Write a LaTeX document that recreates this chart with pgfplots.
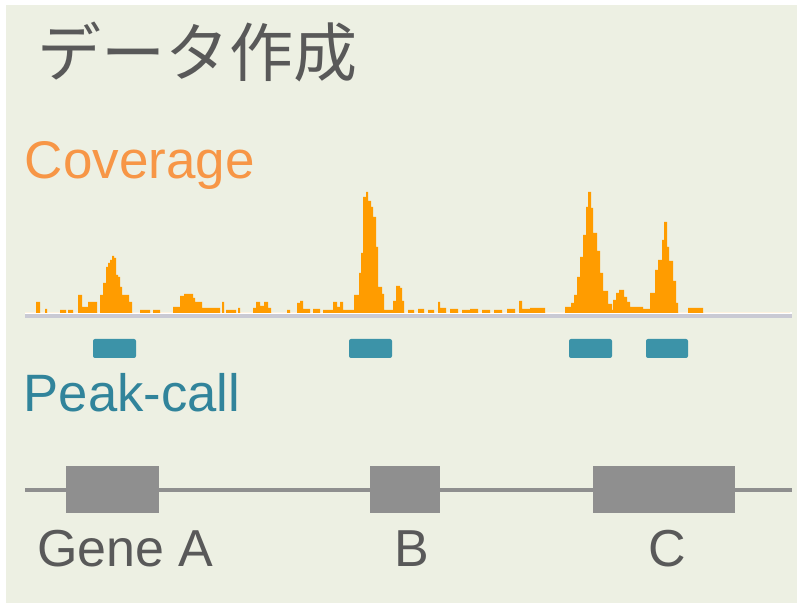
\documentclass[border=0pt]{standalone}
\usepackage{pgfplots}
\pgfplotsset{compat=1.18}
\usepackage{pgfplotstable}
\usepackage{fontspec}
\setmainfont{Liberation Sans}
\newfontfamily\cjk{Noto Sans CJK JP}
\definecolor{panel}{HTML}{EDF0E3}
\definecolor{txtgray}{HTML}{595959}
\definecolor{covtxt}{HTML}{F79646}
\definecolor{covbar}{HTML}{FF9C00}
\definecolor{peaktxt}{HTML}{31849B}
\definecolor{peakbox}{HTML}{3C93A8}
\definecolor{genegray}{HTML}{8F8F8F}
\definecolor{basegray}{HTML}{CACAD4}

% coverage profile: x (px), height above baseline (px); step function
\pgfplotstableread{
x h
25 0
36 11
40 0
45 4
47 0
60 3
66 0
68 3
73 0
78 18
82 6
88 11
97 0
100 18
103 30
106 46
108 50
110 53
112 57
114 55
116 38
118 36
120 26
122 18
126 18
129 11
132 0
140 3
150 0
153 3
160 0
173 6
180 17
184 19
193 15
195 11
202 5
220 0
222 11
224 0
226 3
236 0
238 5
240 0
253 5
256 11
260 7
264 11
268 5
271 0
287 3
290 0
297 10
300 12
303 4
310 0
313 4
320 0
323 3
333 11
337 6
340 11
343 3
354 18
359 40
361 60
363 116
366 121
368 112
371 106
373 96
376 66
378 26
382 19
384 3
393 12
396 27
400 25
402 12
404 0
408 3
414 0
418 4
424 0
428 3
434 0
438 11
440 5
446 0
450 4
458 0
462 3
470 4
478 0
482 3
490 0
494 3
502 0
507 4
515 0
519 12
522 4
530 5
545 0
565 6
571 10
574 18
577 36
580 56
583 78
586 106
588 121
591 105
593 80
597 62
600 40
603 22
608 9
612 3
613 13
616 20
619 23
624 16
627 11
630 6
643 4
650 20
655 43
658 53
662 73
664 91
667 66
669 52
673 32
676 10
678 0
688 5
703 0
790 0
}\coverage

\begin{document}
\begin{tikzpicture}
\begin{axis}[
  scale only axis, width=401pt, height=301.5pt,
  xmin=0, xmax=802, ymin=0, ymax=603,
  hide axis, clip=false,
]
% background
\addplot[fill=white, draw=none] coordinates {(0,0) (802,0) (802,603) (0,603)} -- cycle;
\addplot[fill=panel, draw=none] coordinates {(6,0) (797,0) (797,598) (6,598)} -- cycle;

% baseline of coverage track
\addplot[fill=basegray, draw=none] coordinates {(25,285) (792,285) (792,289) (25,289)} -- cycle;
\addplot[fill=white, draw=none] coordinates {(25,289) (792,289) (792,291) (25,291)} -- cycle;

% coverage
\addplot[const plot, fill=covbar, draw=none] table[x=x, y expr=\thisrow{h}+290] {\coverage} -- cycle;

% peak-call boxes
\addplot[fill=peakbox, draw=none, rounded corners=1pt] coordinates {(93,245) (136,245) (136,264) (93,264)} -- cycle;
\addplot[fill=peakbox, draw=none, rounded corners=1pt] coordinates {(349,245) (392,245) (392,264) (349,264)} -- cycle;
\addplot[fill=peakbox, draw=none, rounded corners=1pt] coordinates {(569,245) (612,245) (612,264) (569,264)} -- cycle;
\addplot[fill=peakbox, draw=none, rounded corners=1pt] coordinates {(646,245) (688,245) (688,264) (646,264)} -- cycle;

% gene track
\addplot[genegray, line width=2.2pt] coordinates {(25,113) (792,113)};
\addplot[fill=genegray, draw=none] coordinates {(65.5,90) (158.5,90) (158.5,137) (65.5,137)} -- cycle;
\addplot[fill=genegray, draw=none] coordinates {(370,90) (440,90) (440,137) (370,137)} -- cycle;
\addplot[fill=genegray, draw=none] coordinates {(593,90) (735,90) (735,137) (593,137)} -- cycle;

% texts
\node[anchor=base west, inner sep=0pt, text=txtgray, font=\cjk\fontsize{32pt}{36pt}\selectfont] at (axis cs:37,526) {データ作成};
\node[anchor=base west, inner sep=0pt, text=covtxt, font=\fontsize{26.5pt}{30pt}\selectfont] at (axis cs:24.5,424) {Coverage};
\node[anchor=base west, inner sep=0pt, text=peaktxt, font=\fontsize{26.3pt}{30pt}\selectfont] at (axis cs:23.5,191) {Peak-call};
\node[anchor=base west, inner sep=0pt, text=txtgray, font=\fontsize{26pt}{30pt}\selectfont] at (axis cs:37,36) {Gene A};
\node[anchor=base west, inner sep=0pt, text=txtgray, font=\fontsize{26pt}{30pt}\selectfont] at (axis cs:394.5,36) {B};
\node[anchor=base west, inner sep=0pt, text=txtgray, font=\fontsize{26pt}{30pt}\selectfont] at (axis cs:648,36) {C};
\end{axis}
\end{tikzpicture}
\end{document}
